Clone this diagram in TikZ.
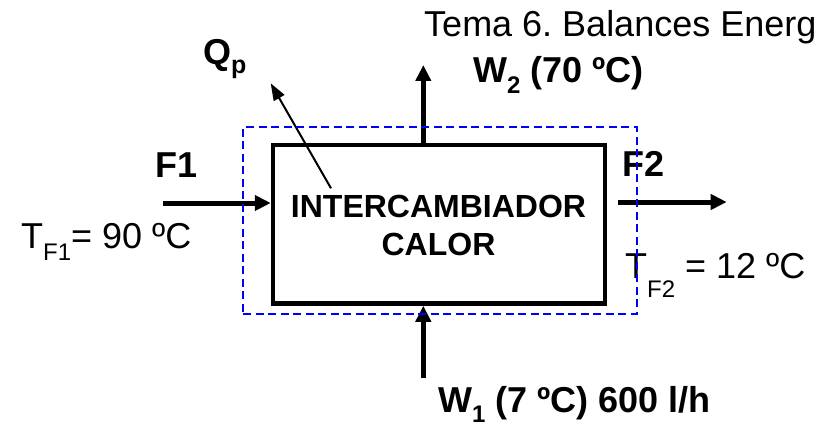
\documentclass[tikz,border=0pt]{standalone}
\usepackage{fontspec}
\setmainfont{Liberation Sans}
\usetikzlibrary{arrows.meta}
\frenchspacing
\begin{document}
\begin{tikzpicture}[x=1pt,y=1pt,
  flow/.style={line width=5pt, -{Triangle[length=16pt,width=15pt]}},
  heatflow/.style={line width=2pt, -{Triangle[length=17pt,width=12pt]}},
  lbl/.style={anchor=base west, inner sep=0pt, font=\fontsize{36}{43}\selectfont},
  blbl/.style={anchor=base west, inner sep=0pt, font=\bfseries\fontsize{36}{43}\selectfont},
  unitbox/.style={draw, line width=4.5pt, minimum width=332pt, minimum height=158.5pt, inner sep=0pt},
  sysbound/.style={draw=blue, line width=2pt, dash pattern=on 8pt off 4.5pt, minimum width=393.4pt, minimum height=186.7pt, inner sep=0pt}
]
\useasboundingbox (0,0) rectangle (825,424);
\clip (0,0) rectangle (825,424);
\fill[white] (0,0) rectangle (825,424);

% main unit
\node[unitbox] (box) at (439,199.75) {};
\node[anchor=base, align=center, inner sep=0pt, font=\bfseries\fontsize{32}{38}\selectfont] (boxtext) at (438.5,169) {INTERCAMBIADOR\\CALOR};

% labels
\node[lbl] (title) at (424,387) {Tema 6. Balances Energ};
\node[blbl] (qp) at (203,359) {Q\raisebox{-9pt}{\fontsize{25}{25}\selectfont p}};
\node[blbl] (w2) at (473,341) {W\raisebox{-10pt}{\fontsize{24}{24}\selectfont 2} (70 ºC)};
\node[blbl] (f1) at (155,247) {F1};
\node[blbl] (f2) at (622,248) {F2};
\node[lbl] (tf1) at (21,176) {T\raisebox{-12pt}{\fontsize{24}{24}\selectfont F1}= 90 ºC};
\node[lbl] (tf2) at (625,146) {T\raisebox{-19pt}{\fontsize{24}{24}\selectfont F2} = 12 ºC};
\node[blbl] (w1) at (438,12) {W\raisebox{-10pt}{\fontsize{24}{24}\selectfont 1} (7 ºC) 600 l/h};

% connectors
\coordinate (f1s) at (163,221);
\coordinate (f2s) at (618.3,222);
\coordinate (f2e) at (726.7,222);
\coordinate (w2e) at (423.3,359);
\coordinate (w1s) at (423.3,45.7);
\coordinate (qs) at (331,235.7);
\coordinate (qe) at (270.7,340.7);

\draw[flow] (f1s) -- (f1s -| box.west);
\draw[flow] (f2s) -- (f2e);
\draw[flow] (w2e |- box.north) -- (w2e);
\draw[flow] (w1s) -- (w1s |- box.south);
\draw[heatflow] (qs) -- (qe);

% system boundary
\node[sysbound] (boundary) at (440,203.3) {};
\end{tikzpicture}
\end{document}
